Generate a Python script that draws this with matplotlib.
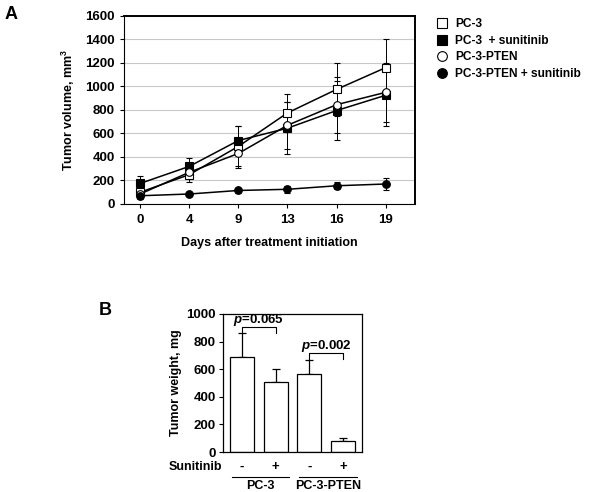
import numpy as np
import matplotlib.pyplot as plt
from matplotlib.lines import Line2D
from matplotlib.transforms import blended_transform_factory

plt.rcParams['font.family'] = ['Liberation Sans', 'DejaVu Sans']
plt.rcParams['font.weight'] = 'bold'
plt.rcParams['mathtext.fontset'] = 'custom'
plt.rcParams['mathtext.rm'] = 'Liberation Sans:bold'
plt.rcParams['mathtext.bf'] = 'Liberation Sans:bold'
plt.rcParams['mathtext.it'] = 'Liberation Sans:italic:bold'

# Panel A: tumor volume over time
days = [0, 4, 9, 13, 16, 19]
pc3 = [100, 250, 490, 775, 975, 1160]
pc3_err = [40, 60, 170, 160, 225, 240]
pc3_sun = [175, 320, 540, 645, 795, 925]
pc3_sun_err = [60, 70, 120, 220, 250, 260]
pten = [85, 270, 430, 670, 845, 950]
pten_err = [40, 50, 120, 200, 240, 250]
pten_sun = [70, 85, 115, 125, 155, 170]
pten_sun_err = [20, 15, 25, 30, 30, 55]

# Panel B: tumor weight at end
groups = ['PC-3', 'PC-3-PTEN']
sunitinib = ['-', '+', '-', '+']
weight = [690, 505, 565, 80]
weight_err = [170, 100, 105, 25]

fig = plt.figure(figsize=(6, 4.92), dpi=100)

# ---------------- Panel A ----------------
axA = fig.add_axes([0.2067, 0.5854, 0.485, 0.3821])
x = np.arange(len(days))
series = [
    (pc3, pc3_err, 's', 'white', 'PC-3'),
    (pc3_sun, pc3_sun_err, 's', 'black', 'PC-3  + sunitinib'),
    (pten, pten_err, 'o', 'white', 'PC-3-PTEN'),
    (pten_sun, pten_sun_err, 'o', 'black', 'PC-3-PTEN + sunitinib'),
]
for vals, err, mk, fc, lab in series:
    axA.errorbar(x, vals, yerr=err, color='black', lw=1.1, elinewidth=0.7,
                 capsize=2, capthick=0.7, marker=mk, markersize=5.5,
                 markerfacecolor=fc, markeredgecolor='black', markeredgewidth=0.8,
                 zorder=3)

axA.set_xlim(-0.33, 5.6)
axA.set_ylim(0, 1600)
axA.set_yticks(range(0, 1601, 200))
axA.set_xticks(x)
axA.set_xticklabels([str(d) for d in days])
axA.yaxis.grid(True, color='#c8c8c8', lw=0.8)
axA.set_axisbelow(True)
axA.tick_params(axis='both', labelsize=9.5, length=3, width=0.8)
axA.tick_params(axis='x', pad=4)
axA.spines['top'].set_linewidth(1.4)
axA.spines['right'].set_linewidth(1.4)
axA.spines['left'].set_linewidth(0.8)
axA.spines['bottom'].set_linewidth(0.8)
axA.set_ylabel('Tumor volume, mm$^\\mathbf{3}$', fontsize=9, fontweight='bold', labelpad=6)
axA.set_xlabel('Days after treatment initiation', fontsize=9, fontweight='bold', labelpad=8)

handles = [Line2D([], [], ls='none', marker=mk, markersize=7, markerfacecolor=fc,
                  markeredgecolor='black', markeredgewidth=0.8)
           for _, _, mk, fc, _ in series]
labels = [s[4] for s in series]
fig.legend(handles, labels, loc='upper left', bbox_to_anchor=(0.717, 0.975),
           frameon=False, fontsize=8.6, handletextpad=0.6, labelspacing=0.38,
           handlelength=1.0, borderpad=0)

fig.text(0.008, 0.988, 'A', fontsize=13, fontweight='bold', va='top')

# ---------------- Panel B ----------------
axB = fig.add_axes([0.3717, 0.0813, 0.2316, 0.2805])
xb = np.arange(len(weight))
axB.bar(xb, weight, width=0.71, color='white', edgecolor='black', lw=0.9, zorder=2)
axB.errorbar(xb, weight, yerr=[np.zeros(len(weight)), weight_err], fmt='none',
             ecolor='black', elinewidth=0.9, capsize=3, capthick=0.9, zorder=1)
axB.set_xlim(-0.56, 3.56)
axB.set_ylim(0, 1000)
axB.set_yticks(range(0, 1001, 200))
axB.set_xticks([])
axB.tick_params(axis='y', labelsize=9.5, length=3, width=0.8, pad=2)
for sp in axB.spines.values():
    sp.set_linewidth(0.9)
axB.set_ylabel('Tumor weight, mg', fontsize=9, fontweight='bold', labelpad=3)

# p-value brackets
def bracket(ax, x1, x2, y, txt):
    ax.plot([x1, x1, x2, x2], [y - 40, y, y, y - 40], color='black', lw=0.8, clip_on=False)
    ax.text((x1 + x2) / 2, y - 8, txt, ha='center', va='bottom', fontsize=9.5,
            fontweight='bold')

bracket(axB, 0, 1, 905, '$\\it{p}$=0.065')
bracket(axB, 2, 3, 715, '$\\it{p}$=0.002')

trans = blended_transform_factory(axB.transData, axB.transAxes)
for xi, s in zip(xb, sunitinib):
    axB.text(xi, -0.11, s, transform=trans, ha='center', va='center',
             fontsize=9.5, fontweight='bold')
axB.text(-0.6, -0.11, 'Sunitinib', transform=trans, ha='right', va='center',
         fontsize=9, fontweight='bold')
for i, g in enumerate(groups):
    axB.plot([2 * i - 0.3, 2 * i + 1.4], [-0.18, -0.18], transform=trans,
             color='black', lw=0.8, clip_on=False)
    axB.text(2 * i + 0.55, -0.205, g, transform=trans, ha='center', va='top',
             fontsize=9, fontweight='bold')

fig.text(0.165, 0.368, 'B', fontsize=13, fontweight='bold', va='center')

fig.savefig('out.png', dpi=100)
